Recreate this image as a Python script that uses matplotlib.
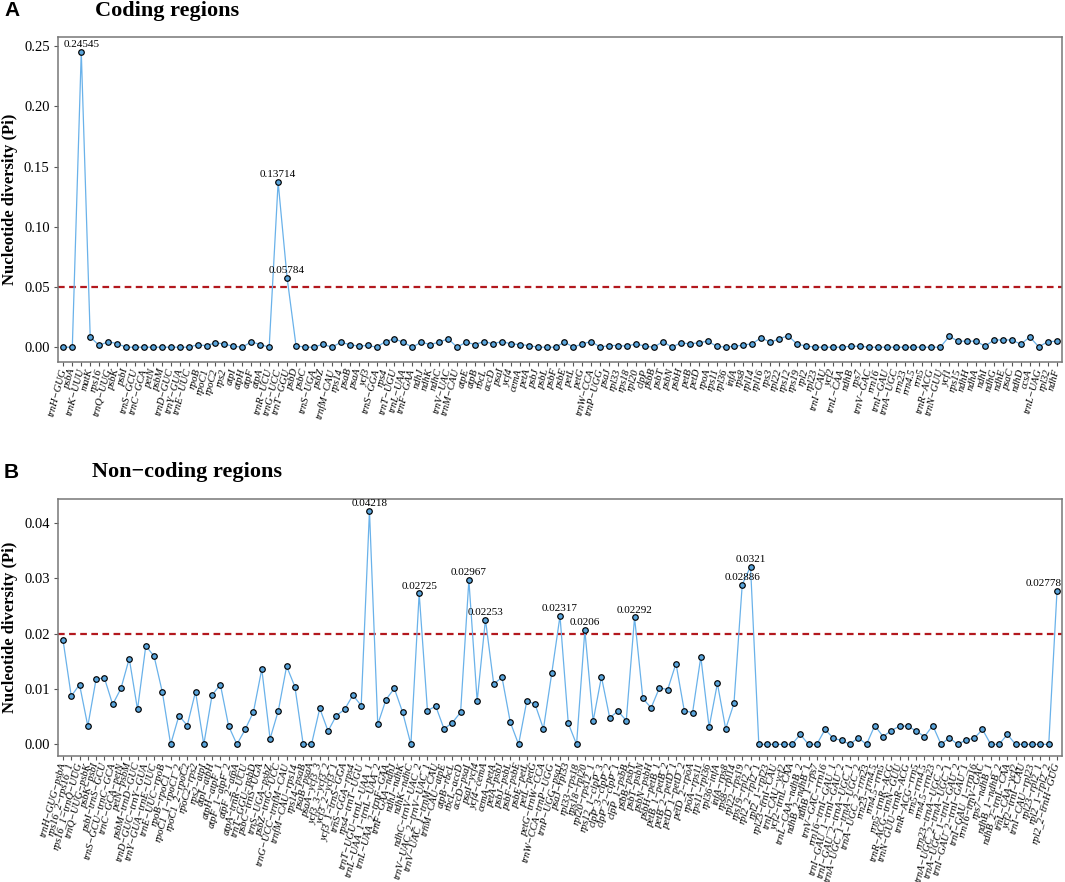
import matplotlib
matplotlib.use('Agg')
import matplotlib.pyplot as plt

# coding regions (genes)
coding_genes = [
    'trnH-GUG', 'psbA', 'trnK-UUU', 'matK', 'rps16', 'trnQ-UUG', 'psbK', 'psbI',
    'trnS-GCU', 'trnC-GCA', 'petN', 'psbM', 'trnD-GUC', 'trnY-GUA', 'trnE-UUC',
    'rpoB', 'rpoC1', 'rpoC2', 'rps2', 'atpI', 'atpH', 'atpF', 'atpA', 'trnR-UCU',
    'trnG-UCC', 'trnT-GGU', 'psbD', 'psbC', 'trnS-UGA', 'psbZ', 'trnfM-CAU',
    'rps14', 'psaB', 'psaA', 'ycf3', 'trnS-GGA', 'rps4', 'trnT-UGU', 'trnL-UAA',
    'trnF-GAA', 'ndhJ', 'ndhK', 'ndhC', 'trnV-UAC', 'trnM-CAU', 'atpE', 'atpB',
    'rbcL', 'accD', 'psaI', 'ycf4', 'cemA', 'petA', 'psbJ', 'psbL', 'psbF', 'psbE',
    'petL', 'petG', 'trnW-CCA', 'trnP-UGG', 'psaJ', 'rpl33', 'rps18', 'rpl20',
    'clpP', 'psbB', 'psbT', 'psbN', 'psbH', 'petB', 'petD', 'rpoA', 'rps11',
    'rpl36', 'infA', 'rps8', 'rpl14', 'rpl16', 'rps3', 'rpl22', 'rps12', 'rps19',
    'rpl2', 'rpl23', 'trnI-CAU', 'ycf2', 'trnL-CAA', 'ndhB', 'rps7', 'trnV-GAC',
    'rrn16', 'trnI-GAU', 'trnA-UGC', 'rrn23', 'rrn4.5', 'rrn5', 'trnR-ACG',
    'trnN-GUU', 'ycf1', 'rps15', 'ndhH', 'ndhA', 'ndhI', 'ndhG', 'ndhE', 'psaC',
    'ndhD', 'ccsA', 'trnL-UAG', 'rpl32', 'ndhF',
]
coding_pi = [
    0, 0, 0.24545, 0.0085, 0.0015, 0.0045, 0.003, 0,
    0, 0, 0, 0, 0, 0, 0,
    0.002, 0.0012, 0.0038, 0.0025, 0.0008, 0, 0.0045, 0.0022, 0,
    0.13714, 0.05784, 0.0012, 0, 0, 0.0025, 0,
    0.004, 0.0022, 0.0008, 0.0015, 0, 0.0047, 0.007, 0.004,
    0, 0.0042, 0.0022, 0.0042, 0.007, 0, 0.0042, 0.0022,
    0.0047, 0.0028, 0.0047, 0.0028, 0.0022, 0.0014, 0, 0, 0, 0.0042,
    0, 0.0028, 0.0047, 0, 0.0014, 0.0014, 0.0008, 0.0028,
    0.0008, 0, 0.0047, 0, 0.0036, 0.0028, 0.0036, 0.005, 0.0008,
    0, 0.0008, 0.0017, 0.003, 0.008, 0.004, 0.007, 0.0095, 0.0025,
    0.001, 0, 0, 0, 0, 0.0008, 0.0008, 0,
    0, 0, 0, 0, 0, 0, 0,
    0, 0.009, 0.005, 0.005, 0.005, 0.0008, 0.006, 0.006, 0.006,
    0.0025, 0.0085, 0.0003, 0.0045, 0.005,
]

# non-coding regions (intergenic spacers / introns)
noncoding_regions = [
    'trnH-GUG-psbA', 'rps16_2-rps16_1', 'rps16_1-trnQ-UUG', 'trnQ-UUG-psbK',
    'psbK-psbI', 'psbI-trnS-GCU', 'trnS-GCU-trnC-GCA', 'trnC-GCA-petN',
    'petN-psbM', 'psbM-trnD-GUC', 'trnD-GUC-trnY-GUA', 'trnY-GUA-trnE-UUC',
    'trnE-UUC-rpoB', 'rpoB-rpoC1_1', 'rpoC1_1-rpoC1_2', 'rpoC1_2-rpoC2',
    'rpoC2-rps2', 'rps2-atpI', 'atpI-atpH', 'atpH-atpF_1', 'atpF_1-atpF_2',
    'atpF_2-atpA', 'atpA-trnR-UCU', 'trnT-GGU-psbD', 'psbC-trnS-UGA',
    'trnS-UGA-psbZ', 'psbZ-trnG-UCC', 'trnG-UCC-trnfM-CAU', 'trnfM-CAU-rps14',
    'rps14-psaB', 'psaB-psaA', 'psaA-ycf3_3', 'ycf3_3-ycf3_2', 'ycf3_2-ycf3_1',
    'ycf3_1-trnS-GGA', 'trnS-GGA-rps4', 'rps4-trnT-UGU', 'trnT-UGU-trnL-UAA_1',
    'trnL-UAA_1-trnL-UAA_2', 'trnL-UAA_2-trnF-GAA', 'trnF-GAA-ndhJ', 'ndhJ-ndhK',
    'ndhK-ndhC', 'ndhC-trnV-UAC_2', 'trnV-UAC_2-trnV-UAC_1', 'trnV-UAC_1-trnM-CAU',
    'trnM-CAU-atpE', 'atpB-rbcL', 'rbcL-accD', 'accD-psaI', 'psaI-ycf4',
    'ycf4-cemA', 'cemA-petA', 'petA-psbJ', 'psbJ-psbL', 'psbF-psbE', 'psbE-petL',
    'petL-petG', 'petG-trnW-CCA', 'trnW-CCA-trnP-UGG', 'trnP-UGG-psaJ',
    'psaJ-rpl33', 'rpl33-rps18', 'rps18-rpl20', 'rpl20-rps12_1', 'rps12_1-clpP_3',
    'clpP_3-clpP_2', 'clpP_2-clpP_1', 'clpP_1-psbB', 'psbB-psbT', 'psbT-psbN',
    'psbN-psbH', 'psbH-petB_1', 'petB_1-petB_2', 'petB_2-petD_1', 'petD_1-petD_2',
    'petD_2-rpoA', 'rpoA-rps11', 'rps11-rpl36', 'rpl36-infA', 'infA-rps8',
    'rps8-rpl14', 'rpl22-rps19', 'rps19-rpl2_2', 'rpl2_2-rpl2_1', 'rpl2_1-rpl23',
    'rpl23-trnI-CAU', 'trnI-CAU-ycf2', 'ycf2-trnL-CAA', 'trnL-CAA-ndhB_2',
    'ndhB_2-ndhB_1', 'ndhB_1-rps7', 'trnV-GAC-rrn16', 'rrn16-trnI-GAU_1',
    'trnI-GAU_1-trnI-GAU_2', 'trnI-GAU_2-trnA-UGC_1', 'trnA-UGC_1-trnA-UGC_2',
    'trnA-UGC_2-rrn23', 'rrn23-rrn4.5', 'rrn4.5-rrn5', 'rrn5-trnR-ACG',
    'trnR-ACG-trnN-GUU', 'trnN-GUU-trnR-ACG', 'trnR-ACG-rrn5', 'rrn5-rrn4.5',
    'rrn4.5-rrn23', 'rrn23-trnA-UGC_2', 'trnA-UGC_2-trnA-UGC_1',
    'trnA-UGC_1-trnI-GAU_2', 'trnI-GAU_2-trnI-GAU_1', 'trnI-GAU_1-rrn16',
    'rrn16-trnV-GAC', 'rps7-ndhB_1', 'ndhB_1-ndhB_2', 'ndhB_2-trnL-CAA',
    'trnL-CAA-ycf2', 'ycf2-trnI-CAU', 'trnI-CAU-rpl23', 'rpl23-rpl2_1',
    'rpl2_1-rpl2_2', 'rpl2_2-trnH-GUG',
]
noncoding_pi = [
    0.0189, 0.0087, 0.0108, 0.0033, 0.0118, 0.0120, 0.0072, 0.0101, 0.0155, 0.0063,
    0.0178, 0.0159, 0.0094, 0, 0.0052, 0.0034, 0.0095, 0, 0.0089, 0.0108,
    0.0033, 0, 0.0027, 0.0059, 0.0136, 0.0010, 0.0061, 0.0141, 0.0104, 0,
    0, 0.0065, 0.0024, 0.0052, 0.0063, 0.0089, 0.0070, 0.04218, 0.0036, 0.0081,
    0.0101, 0.0058, 0, 0.02725, 0.0061, 0.0069, 0.0028, 0.0039, 0.0058, 0.02967,
    0.0078, 0.02253, 0.0109, 0.0121, 0.0040, 0, 0.0079, 0.0072, 0.0028, 0.0128,
    0.02317, 0.0038, 0, 0.0206, 0.0042, 0.0122, 0.0048, 0.0060, 0.0043, 0.02292,
    0.0083, 0.0066, 0.0102, 0.0099, 0.0146, 0.0061, 0.0057, 0.0158, 0.0031, 0.0110,
    0.0028, 0.0074, 0.02886, 0.0321, 0, 0, 0, 0, 0, 0.0018,
    0, 0, 0.0027, 0.0011, 0.0007, 0, 0.0012, 0, 0.0034, 0.0014,
    0.0025, 0.0033, 0.0033, 0.0024, 0.0014, 0.0034, 0, 0.0012, 0, 0.0008,
    0.0011, 0.0027, 0, 0, 0.0018, 0, 0, 0, 0, 0,
    0.02778,
]

plt.rcParams['font.family'] = ['Liberation Serif', 'DejaVu Serif']
plt.rcParams['axes.unicode_minus'] = True


def draw_panel(ax, names, values, cutoff, ylim, yticks):
    x = list(range(len(names)))
    ax.axhline(cutoff, color='#B3181E', ls=(0, (3, 2)), lw=1.6, zorder=1)
    ax.plot(x, values, color='#6AB2EA', lw=0.9, zorder=2)
    ax.scatter(x, values, s=16, facecolor='#5AA5DC', edgecolor='black',
               linewidth=0.85, zorder=3)
    # label the values above the cut-off line (kept inside the panel)
    for xi, v in zip(x, values):
        if v > cutoff:
            if xi == len(names) - 1:
                ha, dx = 'right', 3
            else:
                ha, dx = 'center', 0
            ax.annotate('%g' % v, (xi, v), xytext=(dx, 2), textcoords='offset points',
                        ha=ha, va='bottom', fontsize=8)
    ax.set_xlim(-0.6, len(names) - 0.4)
    ax.set_ylim(*ylim)
    ax.set_yticks(yticks)
    ax.set_yticklabels(['%.2f' % t for t in yticks], fontsize=10.5)
    ax.set_xticks(x)
    ax.set_xticklabels([n.replace('-', '\u2212') for n in names], rotation=75,
                       ha='right', va='center', rotation_mode='anchor',
                       fontsize=7.5, fontstyle='italic')
    ax.tick_params(axis='both', length=3, width=0.8, color='#555555', pad=2)
    ax.tick_params(axis='y', pad=3)
    for sp in ax.spines.values():
        sp.set_color('#777777')
        sp.set_linewidth(1.1)
    ax.set_ylabel('Nucleotide diversity (Pi)', fontsize=12, fontweight='bold', labelpad=6)


fig = plt.figure(figsize=(10.65, 8.82), dpi=100)
W, H = 1065, 882
ax1 = fig.add_axes([58 / W, 1 - 362 / H, (1062 - 58) / W, (362 - 37) / H])
ax2 = fig.add_axes([58 / W, 1 - 756 / H, (1062 - 58) / W, (756 - 499) / H])

draw_panel(ax1, coding_genes, coding_pi, 0.05, (-0.0123, 0.2577),
           [0, 0.05, 0.10, 0.15, 0.20, 0.25])
draw_panel(ax2, noncoding_regions, noncoding_pi, 0.02, (-0.0021, 0.0443),
           [0, 0.01, 0.02, 0.03, 0.04])
for ax in (ax1, ax2):
    ax.yaxis.set_label_coords(-0.04, 0.5)

fig.text(4 / W, 1 - 11 / H, 'A', fontsize=15, fontweight='bold',
         family='Liberation Sans', va='center')
fig.text(95 / W, 1 - 11 / H, 'Coding regions', fontsize=16, fontweight='bold', va='center')
fig.text(4 / W, 1 - 472 / H, 'B', fontsize=15, fontweight='bold',
         family='Liberation Sans', va='center')
fig.text(92 / W, 1 - 472 / H, 'Non\u2212coding regions', fontsize=16, fontweight='bold',
         va='center')

fig.savefig('out.png', dpi=100)
